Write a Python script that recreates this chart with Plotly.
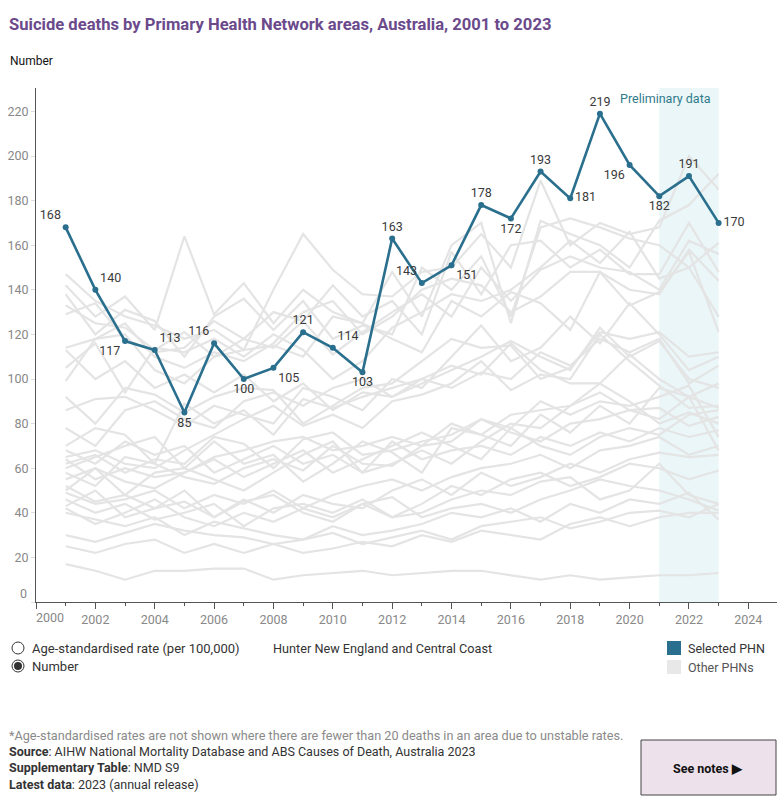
import plotly.graph_objects as go

# ---------------- data ----------------
years = list(range(2001, 2024))
selected_name = "Hunter New England and Central Coast"
selected_values = [168, 140, 117, 113, 85, 116, 100, 105, 121, 114, 103, 163,
                   143, 151, 178, 172, 193, 181, 219, 196, 182, 191, 170]

other_a1 = [147, 135, 128, 124, 118, 122, 113, 140, 165, 149, 138, 137, 148, 150, 165, 150, 189, 160, 170, 165, 168, 200, 185]
other_a2 = [142, 128, 137, 122, 164, 129, 143, 125, 140, 130, 125, 148, 128, 160, 170, 125, 171, 165, 160, 150, 171, 178, 192]
other_a3 = [138, 120, 131, 126, 110, 128, 136, 122, 135, 118, 124, 120, 150, 140, 155, 128, 168, 172, 168, 163, 160, 150, 161]
other_a4 = [129, 134, 118, 112, 114, 126, 118, 130, 126, 142, 128, 135, 120, 157, 138, 160, 162, 150, 158, 147, 147, 170, 148]
other_a5 = [133, 125, 123, 113, 121, 110, 118, 114, 126, 111, 121, 130, 138, 128, 150, 135, 149, 155, 150, 148, 140, 162, 156]
other_a6 = [114, 118, 125, 110, 105, 112, 108, 116, 130, 135, 120, 128, 140, 145, 142, 130, 137, 148, 148, 140, 138, 158, 144]
other_a7 = [105, 116, 94, 114, 112, 118, 110, 120, 113, 100, 108, 123, 130, 138, 135, 140, 150, 162, 152, 166, 145, 150, 128]
other_a8 = [99, 118, 120, 104, 98, 110, 113, 115, 110, 128, 125, 118, 112, 135, 128, 139, 134, 122, 148, 133, 139, 157, 121]
other_b1 = [92, 80, 96, 93, 85, 92, 96, 95, 80, 88, 96, 98, 108, 118, 114, 115, 100, 105, 121, 118, 121, 110, 112]
other_b2 = [78, 70, 86, 90, 82, 78, 90, 94, 88, 96, 100, 92, 98, 104, 110, 117, 110, 104, 123, 110, 117, 100, 96]
other_b3 = [70, 78, 75, 62, 89, 80, 86, 75, 91, 87, 92, 96, 100, 106, 102, 116, 104, 98, 98, 111, 100, 92, 87]
other_b4 = [65, 68, 62, 60, 68, 75, 82, 88, 79, 84, 78, 90, 93, 98, 108, 95, 102, 100, 120, 108, 97, 87, 88]
other_b5 = [86, 91, 92, 86, 79, 88, 84, 80, 96, 92, 86, 100, 96, 110, 124, 108, 114, 128, 116, 134, 120, 104, 110]
other_b6 = [113, 100, 108, 96, 102, 94, 102, 90, 98, 86, 94, 92, 100, 96, 103, 100, 112, 106, 118, 112, 118, 98, 106]
other_c1 = [62, 66, 58, 64, 62, 74, 71, 60, 73, 76, 66, 68, 72, 75, 82, 78, 90, 84, 90, 88, 92, 97, 74]
other_c2 = [64, 55, 60, 56, 58, 65, 68, 72, 74, 68, 70, 74, 70, 80, 75, 84, 86, 88, 94, 86, 87, 79, 83]
other_c3 = [58, 52, 65, 62, 56, 53, 60, 64, 59, 70, 62, 61, 70, 72, 82, 76, 72, 80, 82, 86, 82, 92, 68]
other_c4 = [55, 60, 48, 58, 60, 55, 50, 58, 66, 72, 58, 62, 68, 62, 72, 80, 78, 88, 98, 90, 80, 85, 80]
other_c5 = [60, 65, 70, 74, 60, 72, 62, 66, 54, 62, 72, 67, 58, 78, 75, 70, 84, 76, 88, 80, 96, 92, 98]
other_c6 = [50, 60, 54, 51, 58, 64, 56, 62, 68, 58, 64, 70, 76, 70, 64, 78, 70, 66, 74, 78, 75, 84, 86]
other_c7 = [68, 62, 72, 66, 70, 58, 64, 70, 62, 66, 58, 72, 64, 68, 70, 66, 74, 70, 76, 72, 78, 74, 77]
other_d1 = [49, 44, 46, 50, 42, 48, 44, 50, 42, 48, 52, 55, 50, 56, 60, 62, 66, 60, 68, 70, 74, 66, 70]
other_d2 = [43, 50, 38, 42, 45, 38, 46, 40, 48, 44, 42, 50, 55, 48, 58, 52, 56, 62, 58, 64, 67, 65, 66]
other_d3 = [46, 40, 44, 37, 40, 44, 34, 42, 44, 40, 46, 38, 44, 52, 48, 55, 58, 52, 56, 62, 60, 55, 59]
other_d4 = [42, 35, 40, 46, 38, 34, 40, 36, 42, 38, 44, 38, 40, 46, 50, 48, 54, 56, 46, 50, 62, 48, 44]
other_d5 = [52, 45, 48, 42, 50, 38, 45, 48, 40, 36, 44, 47, 38, 42, 44, 40, 46, 50, 55, 52, 50, 46, 41]
other_d6 = [40, 37, 34, 38, 30, 36, 33, 30, 28, 34, 30, 32, 35, 40, 38, 42, 36, 44, 40, 46, 44, 49, 37]
other_e1 = [30, 27, 31, 35, 32, 30, 29, 26, 28, 31, 26, 29, 32, 28, 34, 36, 38, 33, 36, 40, 41, 38, 44]
other_e2 = [25, 22, 26, 28, 22, 26, 22, 26, 22, 24, 27, 25, 30, 27, 32, 30, 28, 35, 38, 34, 38, 40, 40]
other_e3 = [17, 14, 10, 14, 14, 15, 15, 10, 12, 13, 14, 12, 13, 14, 14, 12, 10, 12, 10, 11, 12, 12, 13]

other_phns = [other_a1, other_a2, other_a3, other_a4, other_a5, other_a6, other_a7, other_a8,
              other_b1, other_b2, other_b3, other_b4, other_b5, other_b6,
              other_c1, other_c2, other_c3, other_c4, other_c5, other_c6, other_c7,
              other_d1, other_d2, other_d3, other_d4, other_d5, other_d6,
              other_e1, other_e2, other_e3]

x_tick_years = list(range(2000, 2025, 2))
y_tick_values = list(range(0, 221, 20))
prelim_start, prelim_end = 2021, 2023

# ---------------- style ----------------
label_positions = ["top left", "top right", "bottom left", "top right", "bottom center",
                   "top left", "bottom center", "bottom right", "top center", "top right",
                   "bottom center", "top center", "top left", "bottom right", "top center",
                   "bottom center", "top center", "middle right", "top center", "bottom left",
                   "bottom center", "top center", "middle right"]
TEAL = "#2a6f8d"
GREY = "#e4e4e4"
FONT = "Roboto"

W, H = 782, 800
L, R, T, B = 36, 5, 88, 198
PW, PH = W - L - R, H - T - B
PX_PER_YEAR = 29.68
PX_PER_UNIT = 2.23


def xp(px):
    return (px - L) / PW


def yp(py):
    return (H - B - py) / PH


fig = go.Figure()
for series in other_phns:
    fig.add_trace(go.Scatter(x=years, y=series, mode="lines",
                             line=dict(color=GREY, width=2.2),
                             hoverinfo="skip", showlegend=False))

fig.add_trace(go.Scatter(
    x=years, y=selected_values, mode="lines+markers+text",
    line=dict(color=TEAL, width=2.6), marker=dict(color=TEAL, size=6),
    text=[str(v) for v in selected_values], textposition=label_positions,
    textfont=dict(family=FONT, size=12.5, color="#3a3a3a"),
    name=selected_name, showlegend=False, cliponaxis=False))

shapes = [
    dict(type="rect", xref="x", yref="paper", x0=prelim_start, x1=prelim_end, y0=0, y1=1,
         fillcolor="#eaf6f7", line=dict(width=0), layer="below"),
    # radio buttons
    dict(type="circle", xref="paper", yref="paper", x0=xp(12), x1=xp(24), y0=yp(654), y1=yp(642),
         line=dict(color="#333", width=1), fillcolor="white"),
    dict(type="circle", xref="paper", yref="paper", x0=xp(12), x1=xp(24), y0=yp(672), y1=yp(660),
         line=dict(color="#333", width=1), fillcolor="white"),
    dict(type="circle", xref="paper", yref="paper", x0=xp(14), x1=xp(22), y0=yp(670), y1=yp(662),
         line=dict(color="#333", width=0), fillcolor="#333"),
    # legend squares
    dict(type="rect", xref="paper", yref="paper", x0=xp(667), x1=xp(681), y0=yp(655), y1=yp(641),
         fillcolor=TEAL, line=dict(width=0)),
    dict(type="rect", xref="paper", yref="paper", x0=xp(667), x1=xp(681), y0=yp(674), y1=yp(660),
         fillcolor="#e8e8e8", line=dict(width=0)),
    # see notes button
    dict(type="rect", xref="paper", yref="paper", x0=xp(641), x1=xp(776), y0=yp(795), y1=yp(740),
         fillcolor="#ede1eb", line=dict(color="#444", width=1)),
]

def ann(text, x, y, size=12, color="#333", xanchor="left", bold=False, xref="paper"):
    return dict(text=f"<b>{text}</b>" if bold else text, x=x, y=y, xref=xref, yref="paper",
                xanchor=xanchor, yanchor="middle", showarrow=False,
                font=dict(family=FONT, size=size, color=color))

annotations = [
    ann("Suicide deaths by Primary Health Network areas, Australia, 2001 to 2023", xp(7), yp(25),
        size=16.6, color="#6b4a8c", bold=True),
    ann("Number", xp(8), yp(61), size=12, color="#111"),
    ann("0", xp(29), yp(593), size=12.5, color="#888", xanchor="right"),
    ann("2000", xp(50), yp(617), size=12.5, color="#888", xanchor="center"),
    ann("Preliminary data", xp(713), yp(98), size=12.5, color="#2f7a8c", xanchor="right"),
    ann("Age-standardised rate (per 100,000)", xp(30), yp(648), size=13),
    ann("Number", xp(30), yp(666), size=13),
    ann(selected_name, xp(271), yp(648), size=12.7),
    ann("Selected PHN", xp(686), yp(648), size=12.5),
    ann("Other PHNs", xp(686), yp(667), size=12.5, color="#555"),
    ann("*Age-standardised rates are not shown where there are fewer than 20 deaths in an area due to unstable rates.",
        xp(7), yp(735), size=12.7, color="#8a8a8a"),
    ann("Source: AIHW National Mortality Database and ABS Causes of Death, Australia 2023",
        xp(7), yp(751), size=12.5, color="#333"),
    ann("Supplementary Table: NMD S9", xp(7), yp(767), size=12.5, color="#333"),
    ann("Latest data: 2023 (annual release)", xp(7), yp(784), size=12.5, color="#333"),
    ann("See notes ▶", xp(708), yp(768), size=12.5, color="#111", xanchor="center", bold=True),
]
# semi-bold field names in the footer
annotations[11]["text"] = "<b>Source</b>: AIHW National Mortality Database and ABS Causes of Death, Australia 2023"
annotations[12]["text"] = "<b>Supplementary Table</b>: NMD S9"
annotations[13]["text"] = "<b>Latest data</b>: 2023 (annual release)"

fig.update_layout(
    width=W, height=H, margin=dict(l=L, r=R, t=T, b=B, autoexpand=False),
    paper_bgcolor="white", plot_bgcolor="white",
    font=dict(family=FONT, size=12, color="#333"),
    shapes=shapes, annotations=annotations, showlegend=False,
    xaxis=dict(range=[2000, 2000 + PW / PX_PER_YEAR], showgrid=False, zeroline=False,
               showline=True, linecolor="#555", linewidth=1,
               tickvals=x_tick_years, ticktext=["" if y == 2000 else str(y) for y in x_tick_years],
               ticks="outside", ticklen=6, tickcolor="#555",
               minor=dict(dtick=1, tick0=2000, ticks="outside", ticklen=3, tickcolor="#555"),
               tickfont=dict(family=FONT, size=12.5, color="#888")),
    yaxis=dict(range=[0, PH / PX_PER_UNIT], showgrid=False, zeroline=False,
               showline=True, linecolor="#555", linewidth=1,
               tickvals=y_tick_values, ticktext=["" if v == 0 else str(v) for v in y_tick_values],
               ticks="outside", ticklen=4, tickcolor="#ddd",
               tickfont=dict(family=FONT, size=12.5, color="#888")),
)

fig.write_html("out.html")
